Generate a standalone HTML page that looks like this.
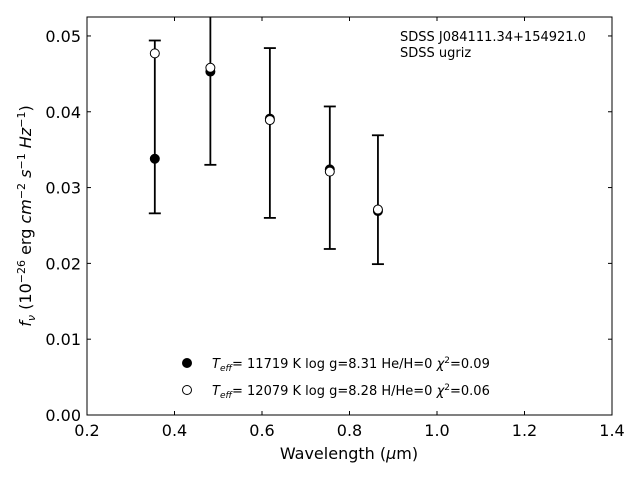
<!DOCTYPE html>
<html><head><meta charset="utf-8"><style>
body{margin:0;background:#fff;font-family:"Liberation Sans","DejaVu Sans",sans-serif}
svg text{font-family:"DejaVu Sans","Liberation Sans",sans-serif}
</style></head><body>
<svg id="c" width="640" height="480" xmlns="http://www.w3.org/2000/svg">
<rect x="0" y="0" width="640" height="480" fill="#fff"/>
<g id="plot"></g>
<rect x="87" y="17" width="525" height="398" fill="none" stroke="#000" stroke-width="1"/>
<g id="axes"></g>
<text x="254" y="459" font-size="16" text-anchor="middle" transform="translate(95,0)">Wavelength (<tspan font-style="italic">μ</tspan>m)</text>
<text transform="translate(31,216) rotate(-90)" font-size="16" text-anchor="middle"><tspan font-style="italic">f</tspan><tspan font-style="italic" font-size="11" dy="4">ν</tspan><tspan dy="-4"> (10</tspan><tspan font-size="11" dy="-6">−26</tspan><tspan dy="6"> erg </tspan><tspan font-style="italic">cm</tspan><tspan font-size="11" dy="-6">−2</tspan><tspan dy="6"> </tspan><tspan font-style="italic">s</tspan><tspan font-size="11" dy="-6">−1</tspan><tspan dy="6"> </tspan><tspan font-style="italic">Hz</tspan><tspan font-size="11" dy="-6">−1</tspan><tspan dy="6">)</tspan></text>
<text x="400" y="41" font-size="13">SDSS J084111.34+154921.0</text>
<text x="400" y="57" font-size="13">SDSS ugriz</text>
<g>
<circle cx="187" cy="363" r="4.5" fill="#000" stroke="#000"/>
<text x="212" y="368" font-size="13"><tspan font-style="italic">T</tspan><tspan font-style="italic" font-size="9" dy="3">eff</tspan><tspan dy="-3">= 11719 K  log g=8.31  He/H=0  </tspan><tspan font-style="italic">χ</tspan><tspan font-size="9" dy="-5">2</tspan><tspan dy="5">=0.09</tspan></text>
<circle cx="187" cy="390" r="4.5" fill="#fff" stroke="#000"/>
<text x="212" y="395" font-size="13"><tspan font-style="italic">T</tspan><tspan font-style="italic" font-size="9" dy="3">eff</tspan><tspan dy="-3">= 12079 K  log g=8.28  H/He=0  </tspan><tspan font-style="italic">χ</tspan><tspan font-size="9" dy="-5">2</tspan><tspan dy="5">=0.06</tspan></text>
</g>
</svg>
<script>
const wavelengths=[0.355,0.482,0.618,0.755,0.865];
const observed=[0.0380,0.0453,0.0372,0.0313,0.0284];
const obsErr=[0.0114,0.0123,0.0112,0.0094,0.0085];
const modelHe=[0.0338,0.0453,0.0391,0.0324,0.0269];
const modelH=[0.0477,0.0458,0.0389,0.0321,0.0271];
const xTicks=[0.2,0.4,0.6,0.8,1.0,1.2,1.4];
const xTickLabels=["0.2","0.4","0.6","0.8","1.0","1.2","1.4"];
const yTicks=[0,0.01,0.02,0.03,0.04,0.05];
const yTickLabels=["0.00","0.01","0.02","0.03","0.04","0.05"];
const X0=87,X1=612,Y0=415,Y1=17,xmin=0.2,xmax=1.4,ymin=0,ymax=0.0525;
const sx=v=>X0+(v-xmin)/(xmax-xmin)*(X1-X0);
const sy=v=>Y0-(v-ymin)/(ymax-ymin)*(Y0-Y1);
const NS="http://www.w3.org/2000/svg";
const plot=document.getElementById('plot'),axes=document.getElementById('axes');
function mk(tag,attrs,parent){const e=document.createElementNS(NS,tag);for(const k in attrs)e.setAttribute(k,attrs[k]);parent.appendChild(e);return e;}
xTicks.forEach((t,i)=>{
 const l=mk('line',{x1:sx(t),x2:sx(t),y1:Y0,y2:Y0-4,stroke:'#000'},axes);
 
 
 const l2=mk('line',{x1:sx(t),x2:sx(t),y1:Y1,y2:Y1+4,stroke:'#000'},axes);
 
 
 const tx=mk('text',{x:sx(t),y:Y0+21,'font-size':16,'text-anchor':'middle'},axes);tx.textContent=xTickLabels[i];
 
 
});
yTicks.forEach((t,i)=>{
 const l=mk('line',{x1:X0,x2:X0+4,y1:sy(t),y2:sy(t),stroke:'#000'},axes);
 
 
 const l2=mk('line',{x1:X1,x2:X1-4,y1:sy(t),y2:sy(t),stroke:'#000'},axes);
 
 
 const tx=mk('text',{x:X0-6,y:sy(t)+6,'font-size':16,'text-anchor':'end'},axes);tx.textContent=yTickLabels[i];
 
 
});
const clipDef=mk('defs',{},plot);const cp=mk('clipPath',{id:'cp'},clipDef);mk('rect',{x:X0,y:Y1,width:X1-X0,height:Y0-Y1},cp);
const g=mk('g',{'clip-path':'url(#cp)'},plot);
wavelengths.forEach((w,i)=>{
 const x=sx(w),lo=sy(observed[i]-obsErr[i]),hi=sy(observed[i]+obsErr[i]);
 const eb=mk('g',{stroke:'#000','stroke-width':1.8},g);
 
 
 mk('line',{x1:x,x2:x,y1:lo,y2:hi},eb);
 mk('line',{x1:x-6,x2:x+6,y1:lo,y2:lo},eb);
 mk('line',{x1:x-6,x2:x+6,y1:hi,y2:hi},eb);
});
wavelengths.forEach((w,i)=>{
 const c=mk('circle',{cx:sx(w),cy:sy(modelHe[i]),r:4.5,fill:'#000',stroke:'#000'},g);
 
 
});
wavelengths.forEach((w,i)=>{
 const c=mk('circle',{cx:sx(w),cy:sy(modelH[i]),r:4.5,fill:'#fff',stroke:'#000'},g);
 
 
});
</script>
</body></html>
